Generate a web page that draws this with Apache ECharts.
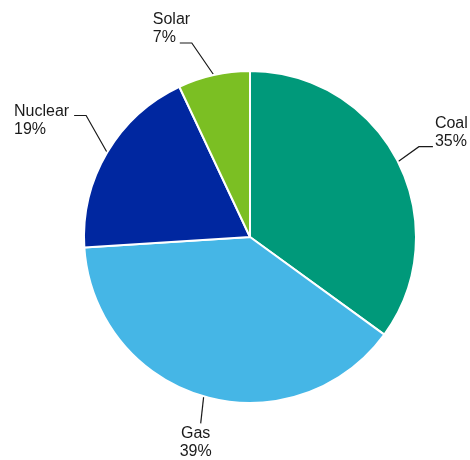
<!DOCTYPE html>
<html lang="en">
<head>
<meta charset="UTF-8">
<title>Energy mix</title>
<style>
    html, body { margin: 0; padding: 0; background: #fff; }
    #main { width: 470px; height: 460px; }
</style>
</head>
<body>
<div id="main"></div>
<script src="https://cdn.jsdelivr.net/npm/echarts@6/dist/echarts.min.js"></script>
<script>
var categories = ['Coal', 'Gas', 'Nuclear', 'Solar'];
var shares = [35, 39, 19, 7];
var colors = ['#00997a', '#45b6e6', '#0027a0', '#7bbf23'];

// label line look: bend point relative to the slice edge, then a short horizontal tail
var elbowShift = [[21, -15], [-3, 27], [-21, -37], [-22, -32]];
var tailLen = [14, 0, 12, 12];

var myChart = echarts.init(document.getElementById('main'));

myChart.setOption({
    animation: false,
    series: [{
        type: 'pie',
        center: [250, 237],
        radius: 166,
        startAngle: 90,
        clockwise: true,
        avoidLabelOverlap: false,
        itemStyle: {
            borderColor: '#fff',
            borderWidth: 2
        },
        label: {
            formatter: '{b}\n{c}%',
            fontFamily: 'Liberation Sans, Arial, sans-serif',
            fontSize: 16,
            lineHeight: 18,
            color: '#1a1a1a'
        },
        labelLine: {
            length: 20,
            length2: 10,
            lineStyle: { color: '#1a1a1a', width: 1.2 }
        },
        labelLayout: function (p) {
            var i = p.dataIndex;
            var p0 = p.labelLinePoints[0];
            var p1 = [p0[0] + elbowShift[i][0], p0[1] + elbowShift[i][1]];
            var dir = p1[0] < p0[0] ? -1 : 1;
            var p2 = [p1[0] + dir * tailLen[i], p1[1]];
            var pts = [p0, p1, p2];
            var w = p.labelRect.width;
            switch (i) {
                case 0: // Coal
                    return { x: p2[0] + 2, y: p2[1] + 4, align: 'left', verticalAlign: 'bottom', labelLinePoints: pts };
                case 1: // Gas
                    return { x: p2[0] - 5, y: p2[1] + 1, align: 'center', verticalAlign: 'top', labelLinePoints: pts };
                case 2: // Nuclear
                    return { x: p2[0] - 5 - w, y: p2[1] - 13, align: 'left', verticalAlign: 'top', labelLinePoints: pts };
                default: // Solar
                    return { x: p2[0] - 27, y: p2[1] + 4, align: 'left', verticalAlign: 'bottom', labelLinePoints: pts };
            }
        },
        data: categories.map(function (name, i) {
            return {
                name: name,
                value: shares[i],
                itemStyle: { color: colors[i] }
            };
        })
    }]
});
</script>
</body>
</html>
